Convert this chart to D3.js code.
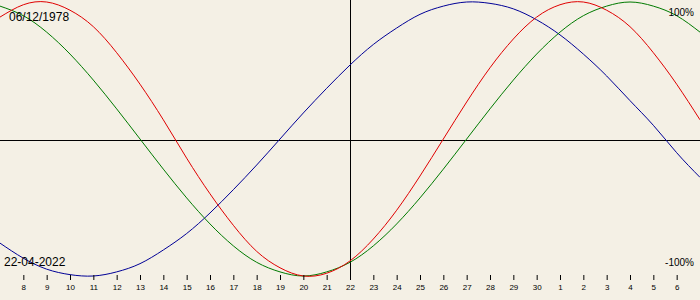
<!DOCTYPE html>
<html>
<head>
<meta charset="utf-8">
<script src="https://cdn.jsdelivr.net/npm/d3@7"></script>
<style>
    body { margin: 0; background: #f4f0e5; }
    svg { display: block; }
    text { font-family: "Liberation Sans", Arial, sans-serif; fill: #000; }
</style>
</head>
<body>
<div id="chart"></div>
<script>
// podaci - dani od -15 do +15 oko trenutnog datuma
const dani = d3.range(-15, 16);
const oznakeDana = ["8", "9", "10", "11", "12", "13", "14", "15", "16", "17", "18", "19", "20", "21",
    "22", "23", "24", "25", "26", "27", "28", "29", "30", "1", "2", "3", "4", "5", "6"];
const fizicki = [89, 98, 100, 94, 82, 63, 40, 14, -14, -40, -63, -82, -94, -100, -98, -89,
    -73, -52, -27, 0, 27, 52, 73, 89, 98, 100, 94, 82, 63, 40, 14];
const emocionalni = [97, 90, 78, 62, 43, 22, 0, -22, -43, -62, -78, -90, -97, -100, -97, -90,
    -78, -62, -43, -22, 0, 22, 43, 62, 78, 90, 97, 100, 97, 90, 78];
const intelektualni = [-76, -87, -95, -99, -100, -97, -91, -81, -69, -54, -37, -19, 0, 19, 37, 54,
    69, 81, 91, 97, 100, 99, 95, 87, 76, 62, 46, 28, 10, -10, -28];
const datumRodjenja = "06/12/1978";
const trenutniDatum = "22-04-2022";
const oznakaMax = "100%";
const oznakaMin = "-100%";

const dimenzije = { sirina: 700, visina: 300 };

const okvir = d3.select("#chart")
    .append("svg")
    .attr("width", dimenzije.sirina)
    .attr("height", dimenzije.visina);

okvir.append("rect")
    .attr("width", dimenzije.sirina)
    .attr("height", dimenzije.visina)
    .attr("fill", "#f4f0e5");

// skale
const xSkala = d3.scaleLinear()
    .domain([-15, 15])
    .range([0, dimenzije.sirina]);

const ySkala = d3.scaleLinear()
    .domain([-100, 100])
    .range([276, 2]);

// osi (sredina)
okvir.append("line")
    .attr("x1", 0)
    .attr("x2", dimenzije.sirina)
    .attr("y1", 140.5)
    .attr("y2", 140.5)
    .attr("stroke", "#000");

okvir.append("line")
    .attr("x1", Math.round(xSkala(0)) + 0.5)
    .attr("x2", Math.round(xSkala(0)) + 0.5)
    .attr("y1", 0)
    .attr("y2", 280)
    .attr("stroke", "#000");

// krivulje
const linija = d3.line()
    .x((d, i) => xSkala(dani[i]))
    .y(d => ySkala(d))
    .curve(d3.curveNatural);

const serije = [
    { vrijednosti: intelektualni, boja: "#000096" },
    { vrijednosti: emocionalni, boja: "#007a00" },
    { vrijednosti: fizicki, boja: "#e00000" },
];

okvir.selectAll(".krivulja")
    .data(serije)
    .join("path")
    .attr("class", "krivulja")
    .attr("d", d => linija(d.vrijednosti))
    .attr("fill", "none")
    .attr("stroke", d => d.boja)
    .attr("stroke-width", 1);

// x os s danima
const xOsGenerator = d3.axisBottom(xSkala)
    .tickValues(d3.range(-14, 15))
    .tickFormat((d, i) => oznakeDana[i])
    .tickSize(5)
    .tickPadding(4);

const xOs = okvir.append("g")
    .attr("transform", "translate(0, 275)")
    .call(xOsGenerator);

xOs.select(".domain").remove();
xOs.selectAll("line").attr("stroke", "#000");
xOs.selectAll("text")
    .style("font-family", "'Liberation Sans', Arial, sans-serif")
    .style("font-size", "8px")
    .attr("fill", "#000");

// tekstovi
okvir.append("text")
    .attr("x", 9)
    .attr("y", 21)
    .style("font-size", "12px")
    .text(datumRodjenja);

okvir.append("text")
    .attr("x", 4)
    .attr("y", 266)
    .style("font-size", "12px")
    .text(trenutniDatum);

okvir.append("text")
    .attr("x", 694)
    .attr("y", 16)
    .attr("text-anchor", "end")
    .style("font-size", "10px")
    .text(oznakaMax);

okvir.append("text")
    .attr("x", 694)
    .attr("y", 266)
    .attr("text-anchor", "end")
    .style("font-size", "10px")
    .text(oznakaMin);
</script>
</body>
</html>
